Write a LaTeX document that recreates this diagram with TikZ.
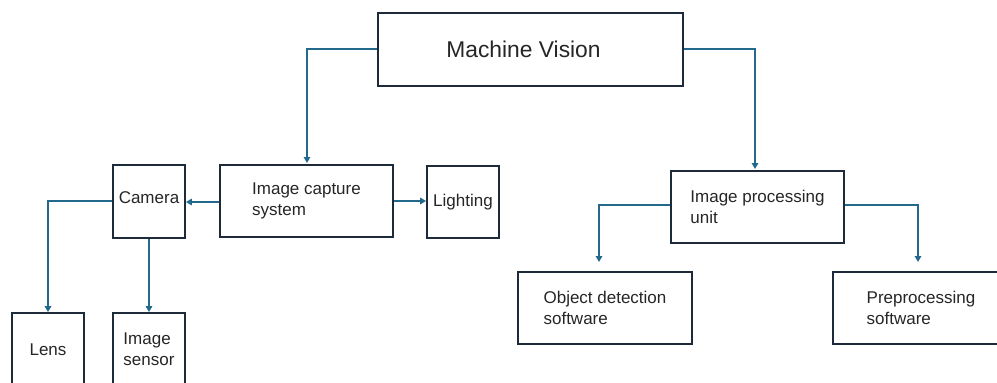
\documentclass[tikz,border=0pt]{standalone}
\usepackage{fontspec}
\setmainfont{Liberation Sans}
\usetikzlibrary{arrows.meta}
\definecolor{boxc}{RGB}{28,42,58}
\definecolor{linec}{RGB}{35,105,140}
\begin{document}
\begin{tikzpicture}[x=1pt,y=-1pt,
  box/.style={draw=boxc, line width=1.8pt, fill=white, inner sep=0pt, align=left,
    text=black!85, font=\fontsize{17}{21}\selectfont},
  conn/.style={draw=linec, line width=1.5pt, -{Triangle[length=6pt,width=6.5pt]}}]
\useasboundingbox (0,0) rectangle (997,383);
\clip (0,0) rectangle (997,383);
\node[box, minimum width=305pt, minimum height=73pt, font=\fontsize{22.8}{27}\selectfont] (mv) at (530.5,49.5) {\hspace*{-14pt}Machine Vision};
\node[box, minimum width=173pt, minimum height=72pt] (ics) at (306.5,201) {Image capture\\system};
\node[box, minimum width=72pt, minimum height=73pt] (cam) at (149,201.5) {\raisebox{8pt}{Camera}};
\node[box, minimum width=72pt, minimum height=72pt] (lig) at (463,202) {Lighting};
\node[box, minimum width=173pt, minimum height=72pt] (ipu) at (757.5,207) {Image processing\\unit};
\node[box, minimum width=174pt, minimum height=72pt] (ods) at (605,308) {Object detection\\software};
\node[box, minimum width=176pt, minimum height=72pt] (pre) at (921,308) {Preprocessing\\software};
\node[box, minimum width=72pt, minimum height=73pt] (lens) at (48,349.5) {Lens};
\node[box, minimum width=72pt, minimum height=73pt] (sen) at (149,349.5) {Image\\sensor};
\coordinate (icsin) at (307,163);
\coordinate (ipuin) at (755,169);
\coordinate (odsin) at (599,262);
\coordinate (prein) at (918,262);
\draw[conn] (mv.west |- 0,49) -| (icsin);
\draw[conn] (mv.east |- 0,49) -| (ipuin);
\draw[conn] (ics.west |- 0,202) -- (cam.east |- 0,202);
\draw[conn] (ics.east |- 0,201) -- (lig.west |- 0,201);
\draw[conn] (cam.west |- 0,201) -| (lens.north);
\draw[conn] (cam.south) -- (sen.north);
\draw[conn] (ipu.west |- 0,205) -| (odsin);
\draw[conn] (ipu.east |- 0,205) -| (prein);
\end{tikzpicture}
\end{document}
